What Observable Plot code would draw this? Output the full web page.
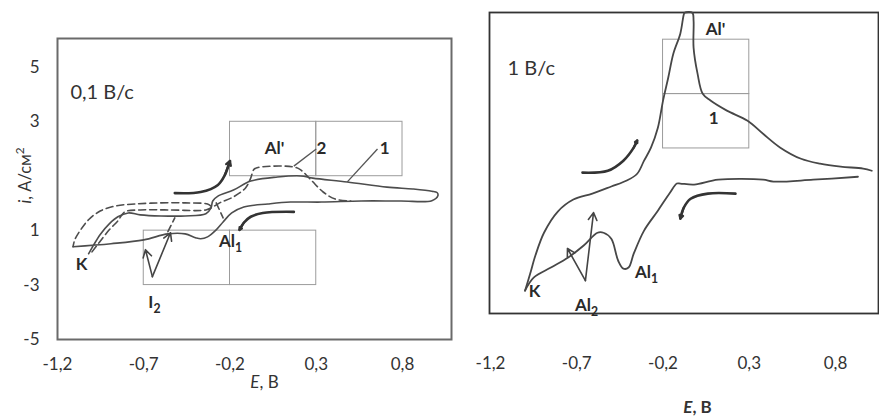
<!DOCTYPE html>
<html><head><meta charset="utf-8">
<script src="https://cdn.jsdelivr.net/npm/d3@7"></script>
<script src="https://cdn.jsdelivr.net/npm/@observablehq/plot@0.6"></script>
<style>
body{margin:0;background:#fff;}
#wrap{position:relative;width:879px;height:420px;overflow:hidden;background:#fff;}
#left,#right{position:absolute;top:0;}
#left{left:0;} #right{left:470px;}
</style></head><body><div id="wrap"><div id="left"></div><div id="right"></div></div>
<script>
// ---- axis ticks ----
const xTickValues = [-1.2, -0.7, -0.2, 0.3, 0.8];
const xTickLabels = ["-1,2", "-0,7", "-0,2", "0,3", "0,8"];
const leftYTicks = [5, 3, -1, -3, -5];
const leftYTickLabels = ["5", "3", "1", "-3", "-5"];

// ---- left panel (0,1 V/s): [E, i] ----
const c1Forward = [[-1.02,-1.85],[-0.99,-1.52],[-0.95,-1.12],[-0.90,-0.75],[-0.85,-0.49],[-0.79,-0.35],[-0.72,-0.42],[-0.60,-0.46],[-0.46,-0.46],[-0.34,-0.38],[-0.31,-0.16],[-0.30,0.09],[-0.27,0.27],[-0.18,0.49],[-0.08,0.82],[0.075,0.97],[0.21,1.01],[0.28,0.93],[0.48,0.79],[0.71,0.60],[0.86,0.53],[0.97,0.45],[1.00,0.40]];
const c1Return = [[1.005,0.28],[0.97,0.10],[0.79,0.09],[0.56,0.09],[0.33,0.05],[0.15,0.05],[0.02,-0.02],[-0.12,-0.13],[-0.19,-0.35],[-0.24,-0.68],[-0.28,-0.97],[-0.33,-1.23],[-0.37,-1.30],[-0.40,-1.26],[-0.46,-1.12],[-0.56,-1.12],[-0.70,-1.34],[-0.89,-1.48],[-1.11,-1.59]];
const c2Inner = [[-1.00,-1.78],[-0.96,-1.45],[-0.90,-0.97],[-0.85,-0.64],[-0.81,-0.31],[-0.72,-0.24],[-0.55,-0.24],[-0.34,-0.24],[-0.30,-0.13],[-0.26,0.02],[-0.18,0.24],[-0.11,0.57],[-0.08,0.93],[-0.06,1.26],[-0.02,1.34],[0.17,1.34],[0.21,1.23],[0.27,0.86],[0.34,0.42],[0.41,0.16],[0.50,0.09]];
const c2Outer = [[-0.31,-0.10],[-0.33,-0.02],[-0.46,0.02],[-0.60,0.02],[-0.75,-0.02],[-0.86,-0.09],[-0.95,-0.27],[-1.02,-0.60],[-1.07,-1.01],[-1.10,-1.34],[-1.11,-1.59]];
const c2BitA = [[-0.56,-1.04],[-0.52,-0.53]];
const c2BitB = [[-0.28,0.02],[-0.24,-0.53]];
const arrowL1 = [[-0.52,0.38],[-0.37,0.42],[-0.27,0.68],[-0.23,1.04],[-0.20,1.56]];
const arrowL2 = [[0.17,-0.31],[-0.01,-0.35],[-0.08,-0.49],[-0.12,-0.71],[-0.145,-0.97]];
const pointerL = [[-0.65,-2.69,-0.69,-1.70],[-0.65,-2.69,-0.545,-1.08]];
const leaderL = [[0.30,2.00,0.17,1.37],[0.655,2.00,0.48,0.79]];
const leftBoxE1 = [-0.2, 0.3, -0.7, -0.2];
const leftBoxE2 = [0.3, 0.8, -0.2, 0.3];
const leftBoxI1 = [1, 1, -3, -3];
const leftBoxI2 = [3, 3, -1, -1];
const leftLabels = ["Al'", "2", "1", "Al_1", "K", "I_2"];
const leftLabelE = [0.058, 0.33, 0.696, -0.197, -1.061, -0.638];
const leftLabelI = [2.03, 2.03, 2.03, -1.41, -2.25, -3.64];

// ---- right panel (1 V/s): [E, i] ----
const r1Up = [[-1.00,-5.23],[-0.97,-4.60],[-0.94,-3.94],[-0.89,-3.10],[-0.81,-2.32],[-0.72,-1.88],[-0.61,-1.66],[-0.50,-1.40],[-0.41,-1.18],[-0.35,-0.93],[-0.31,-0.45],[-0.27,0.03],[-0.23,0.76],[-0.20,1.76],[-0.17,2.60],[-0.14,3.49],[-0.10,4.22],[-0.08,4.92],[-0.075,4.99],[-0.03,4.99],[-0.023,4.70],[-0.023,3.71],[0,2.75],[0.03,2.01],[0.075,1.76],[0.17,1.39],[0.29,1.02],[0.38,0.54],[0.48,0.03],[0.60,-0.38],[0.71,-0.56],[0.83,-0.67],[0.96,-0.74],[1.01,-0.82]];
const r1Down = [[0.93,-1.04],[0.67,-1.15],[0.44,-1.22],[0.38,-1.15],[0.12,-1.15],[-0.02,-1.33],[-0.10,-1.29],[-0.12,-1.29],[-0.16,-1.63],[-0.23,-2.29],[-0.31,-3.02],[-0.37,-3.87],[-0.40,-4.38],[-0.43,-4.42],[-0.46,-4.13],[-0.50,-3.32],[-0.545,-3.10],[-0.58,-3.10],[-0.66,-3.57],[-0.75,-4.01],[-0.85,-4.38],[-0.95,-4.75],[-1.00,-5.23]];
const arrowR1 = [[-0.667,-0.89],[-0.52,-0.82],[-0.43,-0.45],[-0.37,0.03],[-0.35,0.29]];
const arrowR2 = [[0.22,-1.66],[0.06,-1.66],[-0.04,-1.85],[-0.08,-2.18],[-0.10,-2.58]];
const pointerR = [[-0.65,-4.86,-0.754,-3.68],[-0.65,-4.86,-0.603,-2.36]];
const rightBoxE1 = [-0.2, -0.2];
const rightBoxE2 = [0.3, 0.3];
const rightBoxI1 = [2, 0];
const rightBoxI2 = [4, 2];
const rightLabels = ["Al'", "1", "Al_1", "K", "Al_2"];
const rightLabelE = [0.104, 0.093, -0.296, -0.945, -0.643];
const rightLabelI = [4.37, 1.10, -4.57, -5.26, -5.78];

// ---- helpers ----
const pts = (a, id) => a.map(([E, i]) => ({E, i, id}));
const segs = a => a.map(([x1, y1, x2, y2]) => ({x1, y1, x2, y2}));
const head = a => { const p = a[a.length - 2], q = a[a.length - 1]; return {x1: p[0], y1: p[1], x2: q[0], y2: q[1]}; };
const boxes = (e1, e2, i1, i2) => e1.map((d, k) => ({x1: e1[k], x2: e2[k], y1: i1[k], y2: i2[k]}));
const labels = (t, e, i) => t.map((d, k) => ({t: d, E: e[k], i: i[k]}));
const fx = d => xTickLabels[xTickValues.findIndex(v => Math.abs(v - d) < 1e-9)];
const fyL = d => leftYTickLabels[leftYTicks.findIndex(v => Math.abs(v - d) < 1e-9)];
const FONT = "Lato, 'Open Sans', sans-serif";
const curveColor = "#4d4d4d";

const left = Plot.plot({
  width: 470, height: 420,
  marginLeft: 57, marginRight: 19, marginTop: 38, marginBottom: 81,
  style: {fontFamily: FONT, fontSize: "17px", color: "#333", background: "transparent", overflow: "visible"},
  x: {domain: [-1.2, 1.084], ticks: xTickValues, tickFormat: fx, tickSize: 0, tickPadding: 18, label: null},
  y: {domain: [-5, 6.06], ticks: leftYTicks, tickFormat: fyL, tickSize: 0, tickPadding: 18, label: null},
  marks: [
    Plot.rect(boxes(leftBoxE1, leftBoxE2, leftBoxI1, leftBoxI2), {x1: "x1", x2: "x2", y1: "y1", y2: "y2", fill: "none", stroke: "#9c9c9c", strokeWidth: 1}),
    Plot.frame({stroke: "#6a6a6a", strokeWidth: 2}),
    Plot.line(pts(c1Forward.concat(c1Return), "c1"), {x: "E", y: "i", stroke: curveColor, strokeWidth: 1.6, curve: "catmull-rom"}),
    Plot.line([...pts(c2Inner, "a"), ...pts(c2Outer, "b"), ...pts(c2BitA, "c"), ...pts(c2BitB, "d")], {x: "E", y: "i", z: "id", stroke: curveColor, strokeWidth: 1.6, strokeDasharray: "7,4", curve: "catmull-rom"}),
    Plot.line([...pts(arrowL1, "a"), ...pts(arrowL2, "b")], {x: "E", y: "i", z: "id", stroke: "#333", strokeWidth: 2.6, curve: "catmull-rom"}),
    Plot.arrow([head(arrowL1), head(arrowL2)], {x1: "x1", y1: "y1", x2: "x2", y2: "y2", stroke: "#333", strokeWidth: 2.2, headLength: 8}),
    Plot.arrow(segs(pointerL), {x1: "x1", y1: "y1", x2: "x2", y2: "y2", stroke: "#444", strokeWidth: 1.6, headLength: 8}),
    Plot.link(segs(leaderL), {x1: "x1", y1: "y1", x2: "x2", y2: "y2", stroke: "#555", strokeWidth: 1.3}),
    Plot.text(labels(leftLabels, leftLabelE, leftLabelI), {x: "E", y: "i", text: "t", fontWeight: "bold", fontSize: 17, fill: "#2a2a2a"}),
    Plot.text([{t: "0,1 В/с", E: -1.125, i: 4.08}], {x: "E", y: "i", text: "t", textAnchor: "start", fontSize: 20, fill: "#333"}),
    Plot.text([{t: "*E*, В", E: 0}], {x: "E", text: "t", frameAnchor: "bottom", dy: 48, fontSize: 17, fill: "#333"}),
    Plot.text([{t: "*i*, А/см^2", i: 0}], {y: "i", text: "t", frameAnchor: "left", dx: -32, rotate: -90, fontSize: 16.5, fill: "#333"})
  ]
});

const right = Plot.plot({
  width: 409, height: 420,
  marginLeft: 19, marginRight: 1, marginTop: 12, marginBottom: 107,
  style: {fontFamily: FONT, fontSize: "17px", color: "#333", background: "transparent", overflow: "visible"},
  x: {domain: [-1.206, 1.049], ticks: xTickValues, tickFormat: fx, tickSize: 0, tickPadding: 43, label: null},
  y: {domain: [-6.07, 5.0], axis: null},
  marks: [
    Plot.rect(boxes(rightBoxE1, rightBoxE2, rightBoxI1, rightBoxI2), {x1: "x1", x2: "x2", y1: "y1", y2: "y2", fill: "none", stroke: "#9c9c9c", strokeWidth: 1}),
    Plot.frame({stroke: "#333", strokeWidth: 1.8}),
    Plot.line([...pts(r1Up, "u"), ...pts(r1Down, "d")], {x: "E", y: "i", z: "id", stroke: "#474747", strokeWidth: 1.8, curve: "catmull-rom"}),
    Plot.line([...pts(arrowR1, "a"), ...pts(arrowR2, "b")], {x: "E", y: "i", z: "id", stroke: "#333", strokeWidth: 2.6, curve: "catmull-rom"}),
    Plot.arrow([head(arrowR1), head(arrowR2)], {x1: "x1", y1: "y1", x2: "x2", y2: "y2", stroke: "#333", strokeWidth: 2.2, headLength: 8}),
    Plot.arrow(segs(pointerR), {x1: "x1", y1: "y1", x2: "x2", y2: "y2", stroke: "#444", strokeWidth: 1.6, headLength: 8}),
    Plot.text(labels(rightLabels, rightLabelE, rightLabelI), {x: "E", y: "i", text: "t", fontWeight: "bold", fontSize: 17, fill: "#2a2a2a"}),
    Plot.text([{t: "1 В/с", E: -1.101, i: 2.93}], {x: "E", y: "i", text: "t", textAnchor: "start", fontSize: 20, fill: "#333"}),
    Plot.text([{t: "*E*, В", E: 0}], {x: "E", text: "t", frameAnchor: "bottom", dy: 99, fontSize: 17, fontWeight: "bold", fill: "#333"})
  ]
});

document.getElementById("left").appendChild(left);
document.getElementById("right").appendChild(right);

// rich text: *italic*, _sub, ^sup
function rich(svg) {
  d3.select(svg).selectAll("text").each(function () {
    const s = this.textContent;
    if (!/[_^*]/.test(s)) return;
    const fs = parseFloat(getComputedStyle(this).fontSize) || 16;
    const el = d3.select(this);
    el.text(null);
    const re = /\*([^*]+)\*|_(.)|\^(.)|([^_^*]+)/g;
    let m, shift = 0;
    while ((m = re.exec(s))) {
      const sp = el.append("tspan");
      let target = 0, txt;
      if (m[1] !== undefined) { txt = m[1]; sp.attr("font-style", "italic"); }
      else if (m[2] !== undefined) { txt = m[2]; target = 0.3 * fs; sp.attr("font-size", (0.72 * fs) + "px"); }
      else if (m[3] !== undefined) { txt = m[3]; target = -0.4 * fs; sp.attr("font-size", (0.72 * fs) + "px"); }
      else { txt = m[4]; }
      if (target !== shift) { sp.attr("dy", target - shift); shift = target; }
      sp.text(txt);
    }
  });
}
rich(left);
rich(right);
</script></body></html>
